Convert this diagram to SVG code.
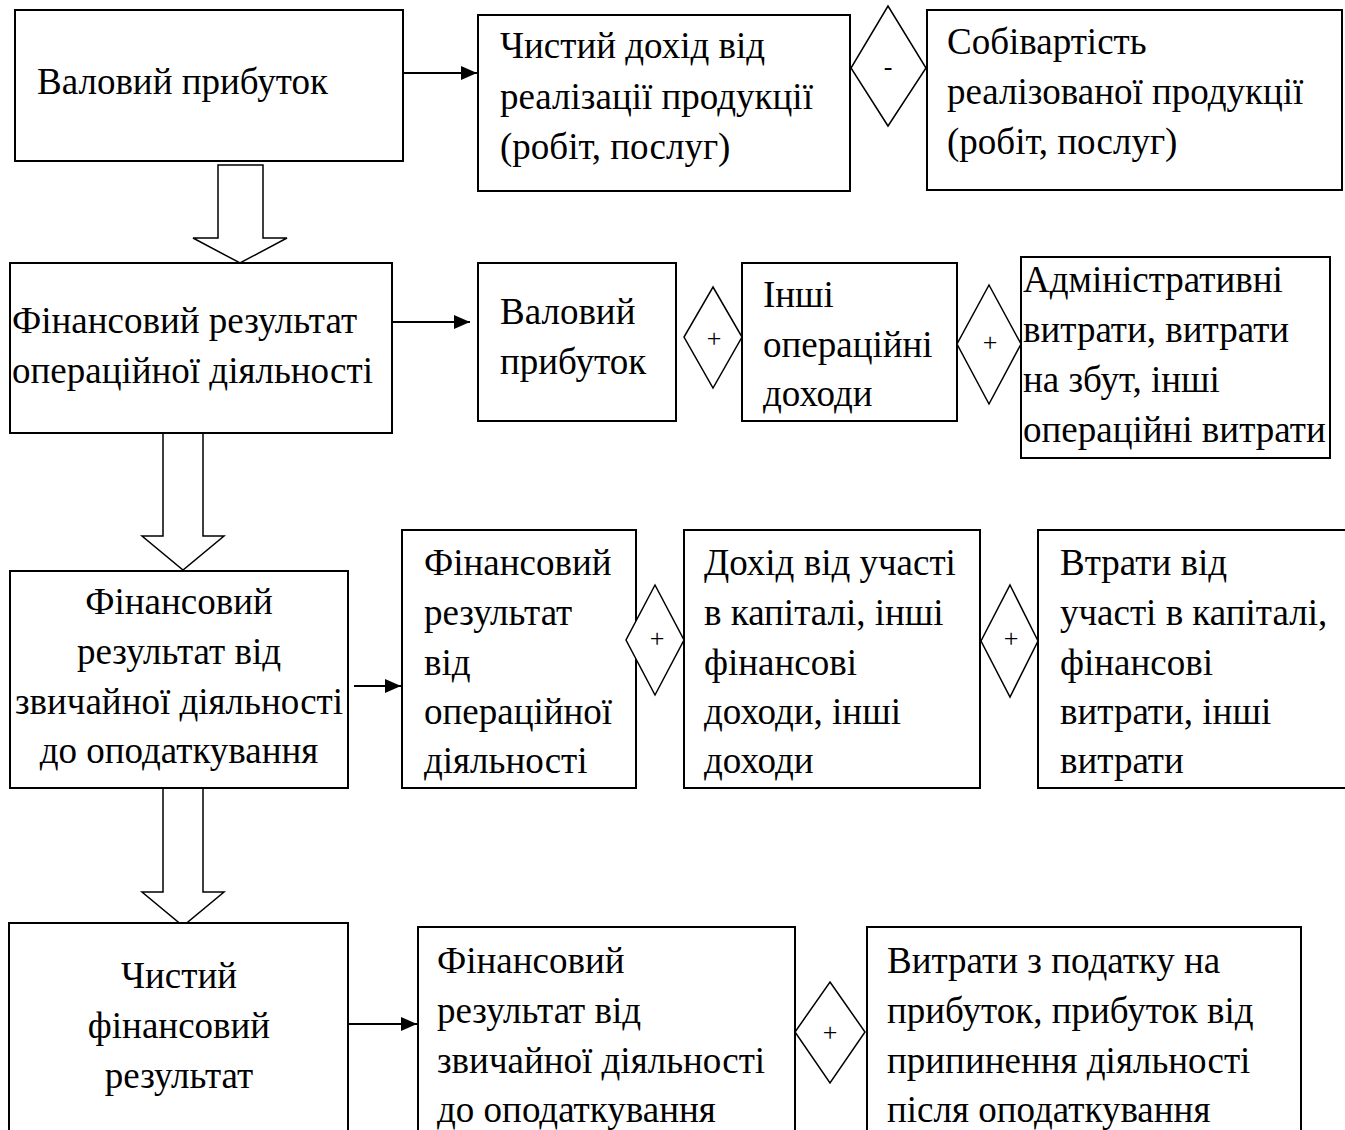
<svg xmlns="http://www.w3.org/2000/svg" width="1345" height="1130" viewBox="0 0 1345 1130">
<style>
.box{fill:#fff;stroke:#000;stroke-width:2}
.dia{fill:#fff;stroke:#000;stroke-width:1.5}
.hol{fill:#fff;stroke:#000;stroke-width:1.5}
.t{font-family:"Liberation Serif","Times New Roman",serif;font-size:37px;fill:#000}
.c{text-anchor:middle}
.s{font-family:"Liberation Serif","Times New Roman",serif;font-size:26px;fill:#000;text-anchor:middle}
.ln{stroke:#000;stroke-width:2;fill:none}
</style>
<defs>
<marker id="ah" viewBox="0 0 16 14" refX="16" refY="7" markerWidth="16" markerHeight="14" markerUnits="userSpaceOnUse" orient="auto">
<path d="M0,0 L16,7 L0,14 Z" fill="#000"/>
</marker>
</defs>
<rect width="1345" height="1130" fill="#fff"/>

<g id="connectors">
<line class="ln" x1="403" y1="73" x2="477" y2="73" marker-end="url(#ah)"/>
<line class="ln" x1="392" y1="322" x2="470" y2="322" marker-end="url(#ah)"/>
<line class="ln" x1="354" y1="686" x2="401" y2="686" marker-end="url(#ah)"/>
<line class="ln" x1="349" y1="1024" x2="417" y2="1024" marker-end="url(#ah)"/>
<polygon class="hol" points="218,165 263,165 263,238 287,238 240,263 193,238 218,238"/>
<polygon class="hol" points="163,433 203,433 203,536 224,536 183,570 142,536 163,536"/>
<polygon class="hol" points="163,788 203,788 203,892 224,892 183,926 142,892 163,892"/>
</g>

<g id="n1"><rect class="box" x="15" y="10" width="388" height="151"/>
<text class="t" x="37" y="94">Валовий прибуток</text></g>

<g id="n2"><rect class="box" x="478" y="15" width="372" height="176"/>
<text class="t" x="500" y="58">Чистий дохід від</text>
<text class="t" x="500" y="109">реалізації продукції</text>
<text class="t" x="500" y="159">(робіт, послуг)</text></g>

<g id="op1"><polygon class="dia" points="888,6 926,68 888,126 851,68"/>
<text class="s" x="888" y="75">-</text></g>

<g id="n3"><rect class="box" x="927" y="10" width="415" height="180"/>
<text class="t" x="947" y="54">Собівартість</text>
<text class="t" x="947" y="104">реалізованої продукції</text>
<text class="t" x="947" y="154">(робіт, послуг)</text></g>

<g id="n4"><rect class="box" x="10" y="263" width="382" height="170"/>
<text class="t" x="12" y="333">Фінансовий результат</text>
<text class="t" x="12" y="383">операційної діяльності</text></g>

<g id="n5"><rect class="box" x="478" y="263" width="198" height="158"/>
<text class="t" x="500" y="324">Валовий</text>
<text class="t" x="500" y="374">прибуток</text></g>

<g id="op2"><polygon class="dia" points="713,287 742,337 713,388 684,337"/>
<text class="s" x="714" y="347">+</text></g>

<g id="n6"><rect class="box" x="742" y="263" width="215" height="158"/>
<text class="t" x="763" y="307">Інші</text>
<text class="t" x="763" y="357">операційні</text>
<text class="t" x="763" y="406">доходи</text></g>

<g id="op3"><polygon class="dia" points="989,285 1021,344 989,404 957,344"/>
<text class="s" x="990" y="351">+</text></g>

<g id="n7"><rect class="box" x="1021" y="257" width="309" height="201"/>
<text class="t" x="1023" y="292">Адміністративні</text>
<text class="t" x="1023" y="342">витрати, витрати</text>
<text class="t" x="1023" y="392">на збут, інші</text>
<text class="t" x="1023" y="442">операційні витрати</text></g>

<g id="n8"><rect class="box" x="10" y="571" width="338" height="217"/>
<text class="t c" x="179" y="614">Фінансовий</text>
<text class="t c" x="179" y="664">результат від</text>
<text class="t c" x="179" y="714">звичайної діяльності</text>
<text class="t c" x="179" y="763">до оподаткування</text></g>

<g id="n9"><rect class="box" x="402" y="530" width="234" height="258"/>
<text class="t" x="424" y="575">Фінансовий</text>
<text class="t" x="424" y="625">результат</text>
<text class="t" x="424" y="675">від</text>
<text class="t" x="424" y="724">операційної</text>
<text class="t" x="424" y="773">діяльності</text></g>

<g id="op4"><polygon class="dia" points="655,585 684,640 655,695 626,640"/>
<text class="s" x="657" y="647">+</text></g>

<g id="n10"><rect class="box" x="684" y="530" width="296" height="258"/>
<text class="t" x="704" y="575">Дохід від участі</text>
<text class="t" x="704" y="625">в капіталі, інші</text>
<text class="t" x="704" y="675">фінансові</text>
<text class="t" x="704" y="724">доходи, інші</text>
<text class="t" x="704" y="773">доходи</text></g>

<g id="op5"><polygon class="dia" points="1010,585 1038,641 1010,697 981,641"/>
<text class="s" x="1011" y="647">+</text></g>

<g id="n11"><rect class="box" x="1038" y="530" width="320" height="258"/>
<text class="t" x="1060" y="575">Втрати від</text>
<text class="t" x="1060" y="625">участі в капіталі,</text>
<text class="t" x="1060" y="675">фінансові</text>
<text class="t" x="1060" y="724">витрати, інші</text>
<text class="t" x="1060" y="773">витрати</text></g>

<g id="n12"><rect class="box" x="9" y="923" width="339" height="220"/>
<text class="t c" x="179" y="988">Чистий</text>
<text class="t c" x="179" y="1038">фінансовий</text>
<text class="t c" x="179" y="1088">результат</text></g>

<g id="n13"><rect class="box" x="418" y="927" width="377" height="220"/>
<text class="t" x="437" y="973">Фінансовий</text>
<text class="t" x="437" y="1023">результат від</text>
<text class="t" x="437" y="1073">звичайної діяльності</text>
<text class="t" x="437" y="1122">до оподаткування</text></g>

<g id="op6"><polygon class="dia" points="830,982 865,1032 830,1083 795,1032"/>
<text class="s" x="830" y="1041">+</text></g>

<g id="n14"><rect class="box" x="867" y="927" width="434" height="220"/>
<text class="t" x="887" y="973">Витрати з податку на</text>
<text class="t" x="887" y="1023">прибуток, прибуток від</text>
<text class="t" x="887" y="1073">припинення діяльності</text>
<text class="t" x="887" y="1122">після оподаткування</text></g>
</svg>
